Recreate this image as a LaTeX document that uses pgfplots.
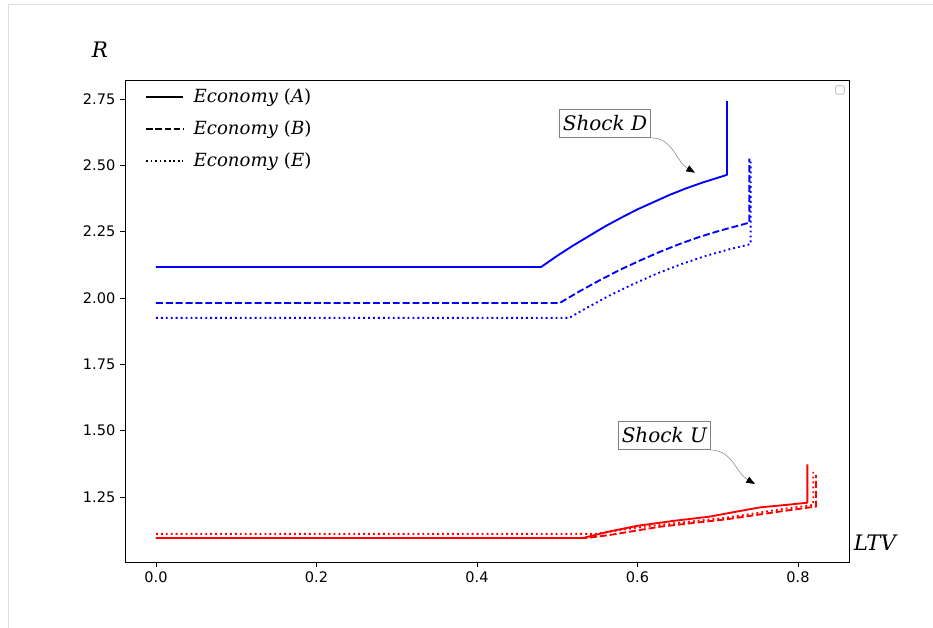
\documentclass[border=0pt]{standalone}
\usepackage{fontspec}
\usepackage{pgfplots}
\pgfplotsset{compat=1.18}
\usetikzlibrary{arrows.meta}
\setmainfont{DejaVu Serif}
\newfontfamily\ticksf{DejaVu Sans}
\definecolor{framegray}{RGB}{221,221,221}
\definecolor{boxgray}{RGB}{128,128,128}
\definecolor{arrgray}{RGB}{150,150,150}

\begin{document}
\begin{tikzpicture}[x=0.75pt,y=0.75pt]
\path[use as bounding box] (0,0) rectangle (933,628);
\draw[framegray, line width=0.75pt] (8,0) -- (8,623) -- (933,623);
\begin{axis}[
  at={(93.75pt,49.5pt)}, anchor=south west,
  width=543pt, height=361.5pt, scale only axis,
  xmin=-0.0386, xmax=0.8636, ymin=1.005, ymax=2.8216,
  xtick={0,0.2,0.4,0.6,0.8},
  xticklabels={0.0,0.2,0.4,0.6,0.8},
  ytick={1.25,1.5,1.75,2,2.25,2.5,2.75},
  yticklabels={1.25,1.50,1.75,2.00,2.25,2.50,2.75},
  tick label style={font=\ticksf\fontsize{10.9}{13}\selectfont},
  tick align=outside, major tick length=3.75pt,
  xtick pos=left, ytick pos=left,
  tick style={black, line width=0.6pt},
  axis line style={black, line width=0.6pt},
  clip=false,
  legend cell align=left,
  legend style={at={(0.0276,0.9867)}, anchor=north west, draw=none, fill=none,
    inner sep=0pt, row sep=8.5pt, font=\fontsize{13.6}{16}\selectfont,
    nodes={inner sep=0pt, text height=12pt, text depth=3.5pt, anchor=west}},
  legend image code/.code={\draw[#1] (0pt,0pt) -- (27.75pt,0pt); \path (35pt,0pt);},
]
\addlegendimage{black, line width=1.3pt}
\addlegendentry{\textit{Economy} (\textit{A})}
\addlegendimage{black, line width=1.3pt, dash pattern=on 4.8pt off 2.1pt}
\addlegendentry{\textit{Economy} (\textit{B})}
\addlegendimage{black, line width=1.3pt, dash pattern=on 1.3pt off 2.1pt}
\addlegendentry{\textit{Economy} (\textit{E})}

% Shock D (blue)
\addplot[blue, line width=1.4pt, line join=round, forget plot] coordinates {
(0,2.117) (0.48,2.117) (0.50,2.159) (0.52,2.198) (0.56,2.2705) (0.58,2.303) (0.60,2.334)
(0.64,2.3885) (0.66,2.4125) (0.68,2.434) (0.7115,2.464) (0.7115,2.742)};
\addplot[blue, line width=1.4pt, dash pattern=on 5.2pt off 2.2pt, forget plot] coordinates {
(0,1.981) (0.503,1.981) (0.528,2.0255) (0.553,2.067) (0.578,2.106) (0.603,2.141) (0.628,2.174)
(0.653,2.204) (0.678,2.231) (0.703,2.254) (0.7395,2.284) (0.7395,2.525)};
\addplot[blue, line width=1.4pt, dash pattern=on 1.4pt off 2.3pt, forget plot] coordinates {
(0,1.925) (0.515,1.925) (0.535,1.960) (0.565,2.009) (0.595,2.053) (0.625,2.093) (0.655,2.128)
(0.685,2.1585) (0.715,2.184) (0.741,2.203) (0.741,2.52)};

% Shock U (red)
\addplot[red, line width=1.4pt, line join=round, forget plot] coordinates {
(0,1.0955) (0.532,1.0955) (0.565,1.120) (0.599,1.141) (0.645,1.160) (0.690,1.176) (0.720,1.193) (0.753,1.211) (0.785,1.220) (0.8117,1.2285) (0.8117,1.373)};
\addplot[red, line width=1.4pt, dash pattern=on 5.2pt off 2.2pt, forget plot] coordinates {
(0,1.0955) (0.537,1.0955) (0.566,1.107) (0.628,1.138) (0.711,1.166) (0.777,1.195) (0.8224,1.214) (0.8224,1.333)};
\addplot[red, line width=1.4pt, dash pattern=on 1.4pt off 2.3pt, forget plot] coordinates {
(0,1.111) (0.548,1.111) (0.600,1.135) (0.628,1.145) (0.711,1.172) (0.777,1.203) (0.819,1.220) (0.819,1.345)};

% empty legend frame
\node[draw={rgb,255:red,204;green,204;blue,204}, fill=white, rounded corners=1.2pt, minimum width=6.5pt, minimum height=6.5pt, inner sep=0pt, line width=0.75pt] at (axis cs:0.8523,2.7839) {};

% annotations
\node[draw=boxgray, line width=0.75pt, fill=white, minimum width=68.5pt, minimum height=21pt, inner sep=0pt, font=\fontsize{15}{18}\selectfont\itshape] (sd) at (axis cs:0.5595,2.6584) {Shock D};
\draw[arrgray, line width=0.5pt, -{Triangle[length=6.5pt,width=5pt,black]}] (sd.south east) to[out=0,in=150] (axis cs:0.6717,2.4722);
\node[draw=boxgray, line width=0.75pt, fill=white, minimum width=68.5pt, minimum height=21pt, inner sep=0pt, font=\fontsize{15}{18}\selectfont\itshape] (su) at (axis cs:0.6335,1.4818) {Shock U};
\draw[arrgray, line width=0.5pt, -{Triangle[length=6.5pt,width=5pt,black]}] (su.south east) to[out=0,in=150] (axis cs:0.7464,1.299);
\end{axis}
\node[font=\fontsize{16}{19}\selectfont\itshape] at (100,578) {R};
\node[font=\fontsize{16}{19}\selectfont\itshape] at (875,85) {LTV};
\end{tikzpicture}
\end{document}
